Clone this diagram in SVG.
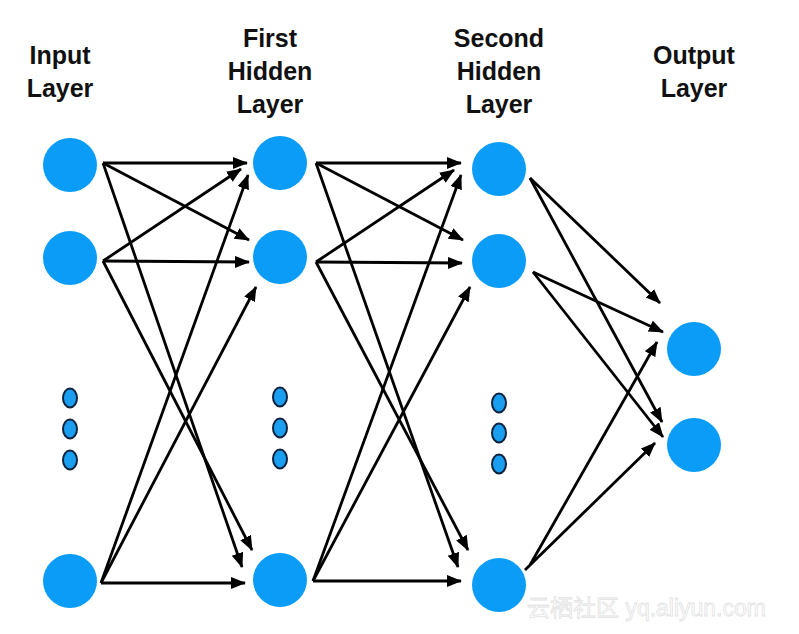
<svg xmlns="http://www.w3.org/2000/svg" width="799" height="634" viewBox="0 0 799 634">
  <style>
    .lbl { font-family: "Liberation Sans", Arial, sans-serif; font-weight: bold; font-size: 25px; fill: #111; text-anchor: middle; }
    .node { fill: #0a9cf6; }
    .dot { fill: #1a9ff0; stroke: #0d2440; stroke-width: 2; }
    .edge { stroke: #000; stroke-width: 2.8; fill: none; marker-end: url(#arr); }
    .wm { font-family: "Liberation Sans", "Noto Sans CJK SC", sans-serif; font-size: 23px; fill: #fff; stroke: #e2e2e2; stroke-width: 0.8; }
  </style>
  <defs>
    <marker id="arr" markerUnits="userSpaceOnUse" markerWidth="16" markerHeight="13" refX="14" refY="6" orient="auto">
      <path d="M0,0 L15,6 L0,12 z" fill="#000"/>
    </marker>
  </defs>
  <rect width="799" height="634" fill="#fff"/>

  <g id="labels">
    <text class="lbl" x="60" y="64">Input</text>
    <text class="lbl" x="60" y="97">Layer</text>
    <text class="lbl" x="270" y="47">First</text>
    <text class="lbl" x="270" y="80">Hidden</text>
    <text class="lbl" x="270" y="113">Layer</text>
    <text class="lbl" x="499" y="47">Second</text>
    <text class="lbl" x="499" y="80">Hidden</text>
    <text class="lbl" x="499" y="113">Layer</text>
    <text class="lbl" x="694" y="64">Output</text>
    <text class="lbl" x="694" y="97">Layer</text>
  </g>

  <g id="connectors">
    <line class="edge" x1="103" y1="163" x2="247" y2="163"/>
    <line class="edge" x1="103" y1="163" x2="249" y2="240"/>
    <line class="edge" x1="103" y1="163" x2="242" y2="567"/>
    <line class="edge" x1="103" y1="261" x2="241" y2="169"/>
    <line class="edge" x1="103" y1="261" x2="249" y2="262"/>
    <line class="edge" x1="103" y1="261" x2="252" y2="550"/>
    <line class="edge" x1="101" y1="583" x2="248" y2="175"/>
    <line class="edge" x1="101" y1="583" x2="256" y2="287"/>
    <line class="edge" x1="101" y1="583" x2="245" y2="583"/>

    <line class="edge" x1="316" y1="163" x2="461" y2="163"/>
    <line class="edge" x1="316" y1="163" x2="463" y2="240"/>
    <line class="edge" x1="316" y1="163" x2="458" y2="567"/>
    <line class="edge" x1="316" y1="262" x2="454" y2="170"/>
    <line class="edge" x1="316" y1="262" x2="462" y2="263"/>
    <line class="edge" x1="316" y1="262" x2="468" y2="550"/>
    <line class="edge" x1="313" y1="581" x2="461" y2="175"/>
    <line class="edge" x1="313" y1="581" x2="470" y2="287"/>
    <line class="edge" x1="313" y1="581" x2="461" y2="581"/>

    <line class="edge" x1="530" y1="178" x2="660" y2="303"/>
    <line class="edge" x1="530" y1="178" x2="662" y2="422"/>
    <line class="edge" x1="533" y1="272" x2="663" y2="332"/>
    <line class="edge" x1="533" y1="272" x2="663" y2="437"/>
    <line class="edge" x1="530" y1="565" x2="657" y2="342"/>
    <line class="edge" x1="525" y1="570" x2="655" y2="443"/>
  </g>

  <g id="input-1"><circle class="node" cx="70" cy="165" r="27"/></g>
  <g id="input-2"><circle class="node" cx="70" cy="258" r="27"/></g>
  <g id="input-dots">
    <ellipse class="dot" cx="70" cy="398" rx="7" ry="9.5"/>
    <ellipse class="dot" cx="70" cy="429" rx="7" ry="9.5"/>
    <ellipse class="dot" cx="70" cy="460" rx="7" ry="9.5"/>
  </g>
  <g id="input-n"><circle class="node" cx="70" cy="581" r="27"/></g>

  <g id="hidden1-1"><circle class="node" cx="280" cy="163" r="27"/></g>
  <g id="hidden1-2"><circle class="node" cx="280" cy="257" r="27"/></g>
  <g id="hidden1-dots">
    <ellipse class="dot" cx="280" cy="397" rx="7" ry="9.5"/>
    <ellipse class="dot" cx="280" cy="428" rx="7" ry="9.5"/>
    <ellipse class="dot" cx="280" cy="459" rx="7" ry="9.5"/>
  </g>
  <g id="hidden1-n"><circle class="node" cx="280" cy="580" r="27"/></g>

  <g id="hidden2-1"><circle class="node" cx="499" cy="169" r="27"/></g>
  <g id="hidden2-2"><circle class="node" cx="499" cy="261" r="27"/></g>
  <g id="hidden2-dots">
    <ellipse class="dot" cx="499" cy="403" rx="7" ry="9.5"/>
    <ellipse class="dot" cx="499" cy="433" rx="7" ry="9.5"/>
    <ellipse class="dot" cx="499" cy="464" rx="7" ry="9.5"/>
  </g>
  <g id="hidden2-n"><circle class="node" cx="499" cy="585" r="27"/></g>

  <g id="output-1"><circle class="node" cx="694" cy="349" r="27"/></g>
  <g id="output-2"><circle class="node" cx="694" cy="445" r="27"/></g>

  <text class="wm" x="527" y="616">云栖社区 yq.aliyun.com</text>
</svg>
